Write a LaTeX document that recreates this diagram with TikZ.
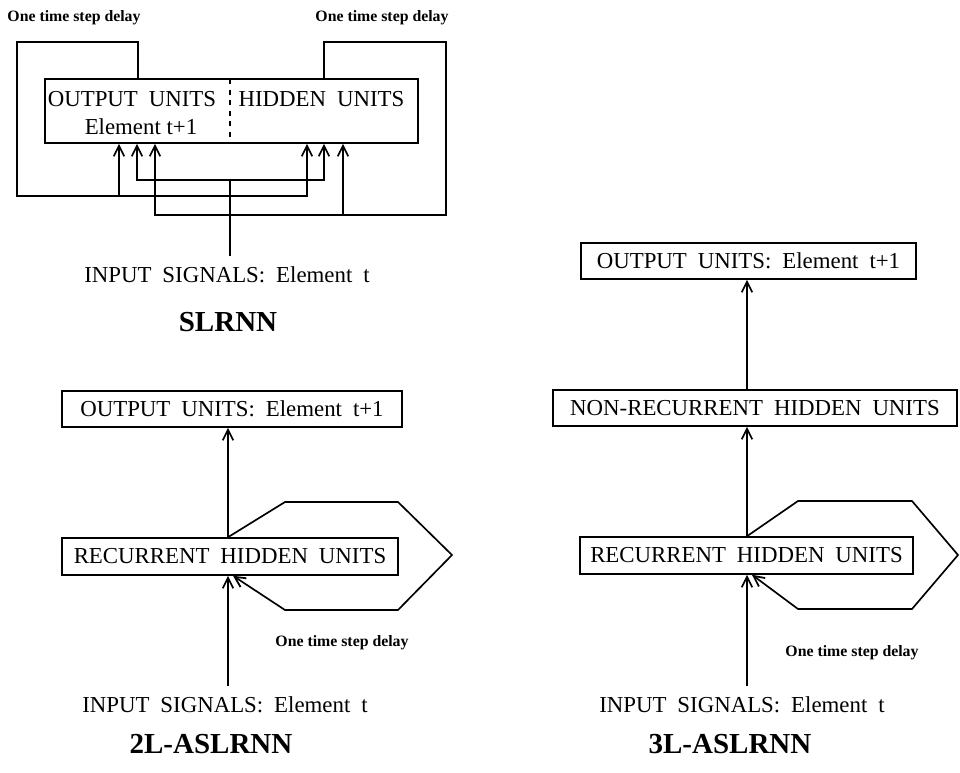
\documentclass[tikz,border=0pt]{standalone}
\usepackage{fontspec}
\setmainfont{Liberation Serif}
\usetikzlibrary{arrows.meta}

\newcommand\widewords{\spaceskip=0.48em plus 0.1em\relax}

\tikzset{
  unitbox/.style={draw, line width=0.9pt, inner sep=0pt, minimum height=0.72cm,
    font=\fontsize{13}{15}\selectfont\widewords},
  boxtext/.style={inner sep=0pt, font=\fontsize{13}{15}\selectfont\widewords},
  insig/.style={inner sep=6pt, font=\fontsize{13}{15}\selectfont\widewords},
  delaynote/.style={inner sep=0pt, font=\fontsize{9}{11}\selectfont\bfseries},
  nettitle/.style={inner sep=0pt, font=\fontsize{16.5}{20}\selectfont\bfseries},
  wire/.style={line width=0.95pt},
  arr/.style={wire, -{Straight Barb[length=6pt,width=6pt,line width=1pt]}}
}

\begin{document}
\begin{tikzpicture}[x=0.02cm, y=-0.02cm]
    \useasboundingbox (0,0) rectangle (960,773);

    % SLRNN
    \node[unitbox, minimum width=7.46cm, minimum height=1.28cm] (slr) at (231.5,111) {};
    \draw[wire, dashed] (230,79) -- (230,143);
    \node[boxtext] (slrout) at (132,99) {OUTPUT UNITS};
    \node[boxtext, font=\fontsize{13}{15}\selectfont] (slrel) at (141,127) {Element t+1};
    \node[boxtext] (slrhid) at (321.5,99) {HIDDEN UNITS};
    \node[delaynote] (dly1) at (74,18) {One time step delay};
    \node[delaynote] (dly2) at (382,18) {One time step delay};
    \node[insig] (in1) at (227,275) {INPUT SIGNALS: Element t};
    \node[nettitle] (t1) at (228,322) {SLRNN};

    \coordinate (ou) at (138,42);
    \coordinate (dl) at (17,196);
    \coordinate (lo) at (119,196);
    \coordinate (lh) at (307,196);
    \coordinate (hu) at (324,42);
    \coordinate (dr) at (446,215);
    \coordinate (ro) at (155,215);
    \coordinate (rh) at (343,215);
    \coordinate (jn) at (230,180);
    \coordinate (ia) at (137,180);
    \coordinate (ib) at (324,180);

    % delay loops
    \draw[arr] (slr.north -| ou) -- (ou) -| (dl) -| (slr.south -| lh);
    \draw[arr] (lo) -- (slr.south -| lo);
    \draw[arr] (slr.north -| hu) -- (hu) -| (dr) -| (slr.south -| ro);
    \draw[arr] (rh) -- (slr.south -| rh);
    % input
    \draw[wire] (in1.north -| jn) -- (jn);
    \draw[arr] (jn) -| (slr.south -| ia);
    \draw[arr] (jn) -| (slr.south -| ib);

    % 2L-ASLRNN
    \node[unitbox, minimum width=6.8cm] (out2) at (232,409) {OUTPUT UNITS: Element t+1};
    \node[unitbox, minimum width=6.72cm, minimum height=0.74cm] (rec2) at (230,556.5) {RECURRENT HIDDEN UNITS};
    \node[delaynote] (dly3) at (342,643) {One time step delay};
    \node[insig] (in2) at (225,705) {INPUT SIGNALS: Element t};
    \node[nettitle] (t2) at (211,744) {2L-ASLRNN};

    \coordinate (a2) at (228,0);
    \coordinate (b2) at (233,0);
    \draw[arr] (rec2.north -| a2) -- (out2.south -| a2);
    \draw[arr] (in2.north -| a2) -- (rec2.south -| a2);
    \draw[arr] (rec2.north -| a2) -- (285,502) -- (398,502) -- (452,555)
        -- (398,610) -- (285,610) -- (rec2.south -| b2);

    % 3L-ASLRNN
    \node[unitbox, minimum width=6.7cm] (out3) at (748.5,261) {OUTPUT UNITS: Element t+1};
    \node[unitbox, minimum width=8.08cm] (non3) at (755,408) {NON-RECURRENT HIDDEN UNITS};
    \node[unitbox, minimum width=6.66cm, minimum height=0.74cm] (rec3) at (746.5,555.5) {RECURRENT HIDDEN UNITS};
    \node[delaynote] (dly4) at (852,653) {One time step delay};
    \node[insig] (in3) at (742,705) {INPUT SIGNALS: Element t};
    \node[nettitle] (t3) at (730,744) {3L-ASLRNN};

    \coordinate (a3) at (747,0);
    \coordinate (b3) at (752,0);
    \draw[arr] (non3.north -| a3) -- (out3.south -| a3);
    \draw[arr] (rec3.north -| a3) -- (non3.south -| a3);
    \draw[arr] (in3.north -| a3) -- (rec3.south -| a3);
    \draw[arr] (rec3.north -| a3) -- (798,501) -- (912,501) -- (958,555)
        -- (912,609) -- (798,609) -- (rec3.south -| b3);
\end{tikzpicture}
\end{document}
